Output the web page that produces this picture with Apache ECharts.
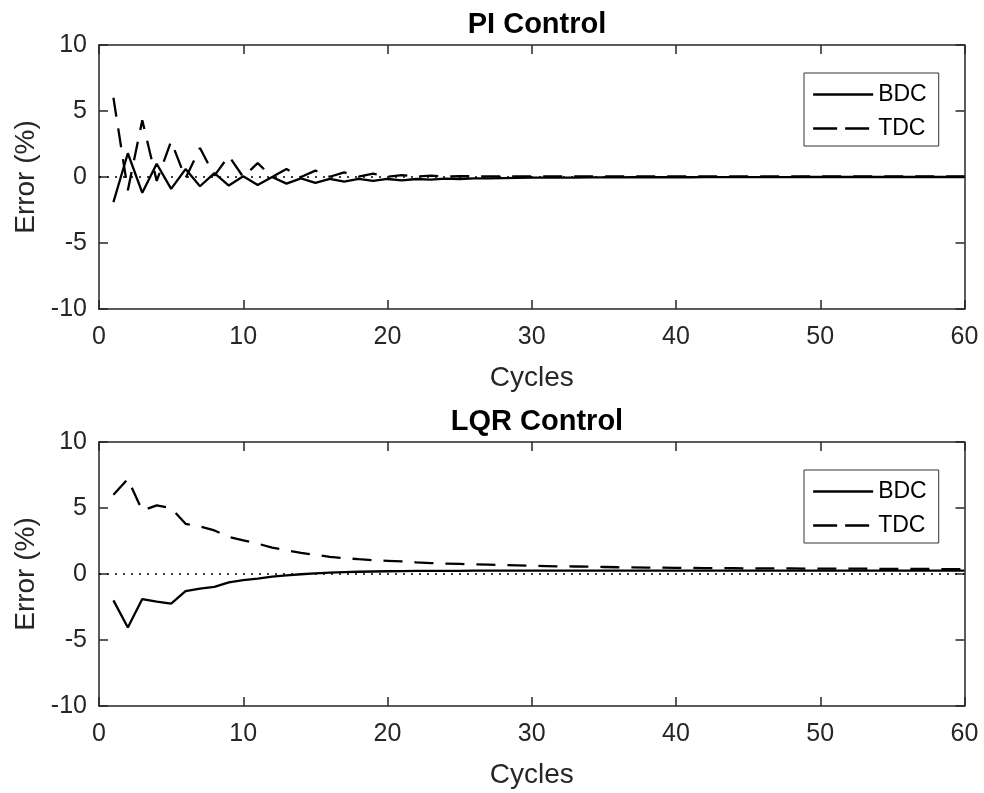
<!DOCTYPE html>
<html><head><meta charset="utf-8">
<script src="https://cdn.jsdelivr.net/npm/echarts@6/dist/echarts.min.js"></script>
<style>html,body{margin:0;padding:0;background:#fff}#c{width:984px;height:793px}</style>
</head><body><div id="c"></div>
<script>
// ---- data ----
const cycles = [1,2,3,4,5,6,7,8,9,10,11,12,13,14,15,16,17,18,19,20,
  21,22,23,24,25,26,27,28,29,30,31,32,33,34,35,36,37,38,39,40,
  41,42,43,44,45,46,47,48,49,50,51,52,53,54,55,56,57,58,59,60];

const piBDC = [-1.9,1.8,-1.2,1.0,-0.9,0.6,-0.7,0.3,-0.65,0.05,
  -0.6,0.0,-0.5,-0.1,-0.45,-0.15,-0.35,-0.15,-0.3,-0.15,
  -0.25,-0.15,-0.2,-0.12,-0.15,-0.1,-0.1,-0.08,-0.06,-0.05,
  -0.05,-0.04,-0.04,-0.03,-0.03,-0.03,-0.02,-0.02,-0.02,-0.02,
  -0.02,-0.01,-0.01,-0.01,-0.01,-0.01,-0.01,-0.01,0,0,
  0,0,0,0,0,0,0,0,0,0];
const piTDC = [6.0,-1.0,4.3,-0.3,2.7,-0.1,2.2,0.1,1.6,0.0,
  1.05,0.0,0.6,0.0,0.48,0.02,0.35,0.02,0.25,0.02,
  0.15,0.03,0.1,0.04,0.07,0.05,0.05,0.05,0.05,0.05,
  0.05,0.05,0.05,0.05,0.05,0.05,0.04,0.04,0.04,0.04,
  0.04,0.04,0.04,0.04,0.04,0.04,0.04,0.04,0.04,0.04,
  0.04,0.04,0.04,0.04,0.04,0.04,0.04,0.04,0.04,0.04];

const lqrBDC = [-2.0,-4.05,-1.9,-2.1,-2.25,-1.3,-1.1,-0.97,-0.64,-0.46,
  -0.35,-0.2,-0.1,-0.02,0.05,0.1,0.14,0.17,0.19,0.21,
  0.22,0.23,0.23,0.24,0.24,0.25,0.25,0.25,0.25,0.25,
  0.25,0.25,0.25,0.25,0.25,0.25,0.25,0.25,0.25,0.25,
  0.25,0.25,0.25,0.25,0.25,0.25,0.25,0.25,0.25,0.25,
  0.25,0.25,0.25,0.25,0.25,0.25,0.25,0.25,0.25,0.25];
const lqrTDC = [6.0,7.2,4.8,5.2,5.0,3.8,3.6,3.3,2.8,2.55,
  2.3,2.0,1.8,1.6,1.45,1.3,1.2,1.12,1.05,1.0,
  0.95,0.88,0.83,0.79,0.76,0.73,0.71,0.68,0.65,0.62,
  0.6,0.58,0.57,0.55,0.53,0.51,0.5,0.49,0.48,0.47,
  0.46,0.45,0.45,0.44,0.43,0.43,0.42,0.42,0.41,0.41,
  0.4,0.4,0.4,0.39,0.39,0.38,0.38,0.38,0.37,0.37];

const titles = ['PI Control', 'LQR Control'];
const seriesNames = ['BDC', 'TDC'];
const xLabel = 'Cycles';
const yLabel = 'Error (%)';
const xMin = 0, xMax = 60, xStep = 10;
const yMin = -10, yMax = 10, yStep = 5;

// ---- chart ----
const FONT = "'Liberation Sans', Arial, Helvetica, sans-serif";
const AX = '#262626';
const chart = echarts.init(document.getElementById('c'), null, {renderer: 'canvas'});

const grids = [
  {left: 99, top: 45, right: 19.5, height: 264},
  {left: 99, top: 442, right: 19.5, height: 264}
];

const xAxes = [], yAxes = [];
grids.forEach((g, gi) => {
  xAxes.push({
    gridIndex: gi, type: 'value', position: 'bottom', min: xMin, max: xMax, interval: xStep,
    name: xLabel, nameLocation: 'middle', nameGap: 55,
    nameTextStyle: {fontFamily: FONT, fontSize: 28, color: AX},
    axisLine: {show: true, onZero: false, lineStyle: {color: AX, width: 1.5}},
    axisTick: {show: true, inside: true, length: 9, lineStyle: {color: AX, width: 1.5}},
    axisLabel: {fontFamily: FONT, fontSize: 25, color: AX, margin: 16},
    splitLine: {show: false}
  });
  xAxes.push({
    gridIndex: gi, type: 'value', position: 'top', min: xMin, max: xMax, interval: xStep,
    axisLine: {show: true, onZero: false, lineStyle: {color: AX, width: 1.5}},
    axisTick: {show: true, inside: true, length: 9, lineStyle: {color: AX, width: 1.5}},
    axisLabel: {show: false}, splitLine: {show: false}
  });
  yAxes.push({
    gridIndex: gi, type: 'value', position: 'left', min: yMin, max: yMax, interval: yStep,
    name: yLabel, nameLocation: 'middle', nameGap: 52,
    nameTextStyle: {fontFamily: FONT, fontSize: 28, color: AX},
    axisLine: {show: true, onZero: false, lineStyle: {color: AX, width: 1.5}},
    axisTick: {show: true, inside: true, length: 9, lineStyle: {color: AX, width: 1.5}},
    axisLabel: {fontFamily: FONT, fontSize: 25, color: AX, margin: 12},
    splitLine: {show: false}
  });
  yAxes.push({
    gridIndex: gi, type: 'value', position: 'right', min: yMin, max: yMax, interval: yStep,
    axisLine: {show: true, onZero: false, lineStyle: {color: AX, width: 1.5}},
    axisTick: {show: true, inside: true, length: 9, lineStyle: {color: AX, width: 1.5}},
    axisLabel: {show: false}, splitLine: {show: false}
  });
});

function pairs(vals) { return cycles.map((c, i) => [c, vals[i]]); }

const zeroLine = {
  silent: true, symbol: ['none', 'none'], label: {show: false},
  lineStyle: {color: '#000', type: [2, 6], width: 1.6},
  data: [{yAxis: 0}]
};

function mkSeries(name, vals, gi, dashed, withZero) {
  const s = {
    name: name, type: 'line', xAxisIndex: gi * 2, yAxisIndex: gi * 2,
    data: pairs(vals), symbol: 'none', showSymbol: false, animation: false,
    lineStyle: {color: '#000', width: 2.3, type: dashed ? [19, 12] : 'solid'},
    itemStyle: {color: '#000'}
  };
  if (withZero) s.markLine = zeroLine;
  return s;
}

const series = [
  mkSeries(seriesNames[0], piBDC, 0, false, true),
  mkSeries(seriesNames[1], piTDC, 0, true, false),
  mkSeries(seriesNames[0], lqrBDC, 1, false, true),
  mkSeries(seriesNames[1], lqrTDC, 1, true, false)
];

function mkLegend(top) {
  return {
    orient: 'vertical', left: 804, top: top,
    data: [
      {name: seriesNames[0], lineStyle: {width: 2.3, color: '#000', type: 'solid'}},
      {name: seriesNames[1], lineStyle: {width: 2.3, color: '#000', type: [24, 8]}}
    ],
    itemWidth: 60, itemHeight: 14, itemGap: 11,
    padding: [10, 12, 6, 8],
    backgroundColor: '#fff', borderColor: '#333', borderWidth: 1,
    itemStyle: {opacity: 0},
    textStyle: {fontFamily: FONT, fontSize: 23, color: '#000'},
    selectedMode: false
  };
}

chart.setOption({
  animation: false,
  backgroundColor: '#fff',
  title: [
    {text: titles[0], left: 532, top: 5, textAlign: 'center',
     textStyle: {fontFamily: FONT, fontSize: 29, fontWeight: 'bold', color: '#000'}},
    {text: titles[1], left: 532, top: 402, textAlign: 'center',
     textStyle: {fontFamily: FONT, fontSize: 29, fontWeight: 'bold', color: '#000'}}
  ],
  legend: [mkLegend(73), mkLegend(470)],
  grid: grids,
  xAxis: xAxes,
  yAxis: yAxes,
  series: series
});
</script>
</body></html>
